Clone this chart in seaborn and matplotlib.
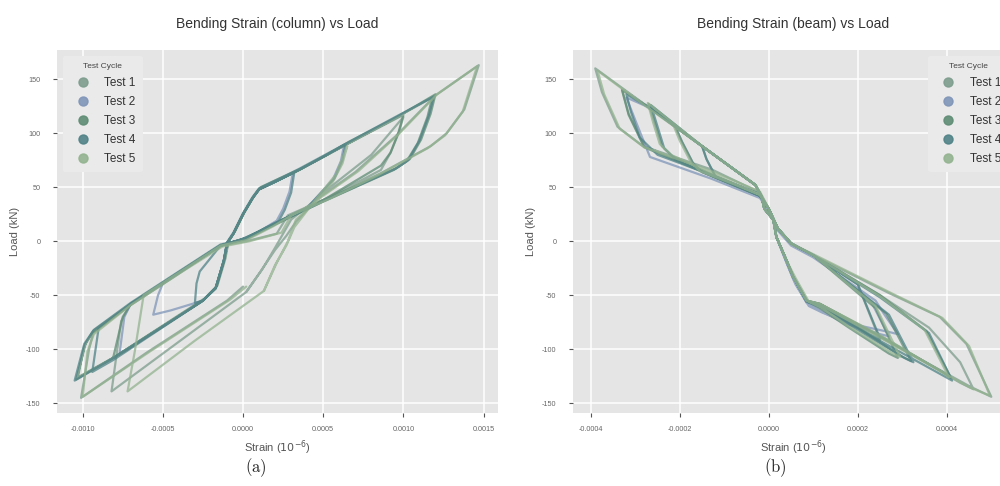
import numpy as np
import pandas as pd
import seaborn as sns
import matplotlib
matplotlib.use("Agg")
import matplotlib.pyplot as plt
from matplotlib.lines import Line2D
from matplotlib.ticker import FormatStrFormatter, MultipleLocator

# ---------------- data ----------------
tests = ["Test 1", "Test 2", "Test 3", "Test 4", "Test 5"]
colors = ["#7d9d8d", "#7f95b8", "#5e8c74", "#4f8286", "#93b38f"]

# Panel (a): column bending strain vs load, (strain, load kN) vertices
col_test1 = [
    (0.00002, -47), (0.00010, -30), (0.00020, -8), (0.00027, 5), (0.00033, 18), (0.00050, 45), (0.00080, 80), (0.00100, 115),
    (0.00097, 100), (0.00092, 82), (0.00086, 66), (0.00050, 38), (0.00019, 15), (0.00002, 2), (-0.00014, -4),
    (-0.00040, -29), (-0.00070, -58), (-0.00076, -74), (-0.00082, -139),
    (-0.00040, -93), (0.00002, -47),
    (0.00012, -26), (0.00020, -6), (0.00030, 20), (0.00045, 38), (0.00070, 64), (0.00095, 97), (0.00120, 135), (0.00147, 163),
    (0.00138, 122), (0.00127, 100), (0.00117, 88), (0.00086, 63), (0.00056, 42), (0.00028, 24), (0.00021, 7), (0.00002, 0),
    (-0.00014, -4), (-0.00040, -29), (-0.00070, -58), (-0.000935, -85), (-0.00096, -100), (-0.00101, -145),
    (-0.00060, -103), (-0.00010, -55), (0.00000, -42)]

col_test2 = [
    (-0.00010, -2), (-0.00006, 7), (0.00000, 25), (0.00006, 40), (0.00010, 48), (0.00020, 55), (0.00031, 63),
    (0.00029, 46), (0.00025, 30), (0.00021, 19), (0.00010, 9), (-0.00002, 1), (-0.00014, -4), (-0.00040, -29),
    (-0.00050, -39), (-0.00053, -50), (-0.00056, -68),
    (-0.00045, -64), (-0.00025, -55), (-0.00017, -43), (-0.00012, -18),
    (-0.00010, -2), (-0.00006, 7), (0.00000, 25), (0.00006, 40), (0.00010, 48), (0.00020, 55), (0.00035, 66), (0.00050, 78), (0.00063, 89),
    (0.00061, 74), (0.00056, 57), (0.00051, 49), (0.00040, 31), (0.00019, 16), (0.00002, 3), (-0.00014, -4),
    (-0.00040, -29), (-0.00070, -58), (-0.00074, -70), (-0.00077, -104),
    (-0.00072, -100), (-0.00025, -55), (-0.00017, -43), (-0.00012, -18), (-0.00010, -2)]

col_test3 = [
    (-0.00010, -2), (-0.00006, 7), (0.00000, 25), (0.00006, 40), (0.00010, 48), (0.00020, 55), (0.00035, 66), (0.00050, 78), (0.00065, 90), (0.00100, 117),
    (0.00097, 101), (0.00092, 82), (0.00086, 70), (0.00050, 38), (0.00019, 16), (0.00002, 3), (-0.00014, -4),
    (-0.00040, -29), (-0.00070, -58), (-0.00075, -70), (-0.00081, -108),
    (-0.00075, -103), (-0.00025, -55), (-0.00017, -43), (-0.00012, -18),
    (-0.00010, -2), (-0.00006, 7), (0.00000, 25), (0.00006, 40), (0.00010, 48), (0.00020, 55), (0.00035, 66), (0.00050, 78), (0.00065, 90), (0.00095, 114), (0.00120, 136),
    (0.00117, 118), (0.00111, 94), (0.00104, 76), (0.00096, 68), (0.00050, 38), (0.00019, 16), (0.00002, 3), (-0.00014, -4),
    (-0.00040, -29), (-0.00070, -58), (-0.000935, -83), (-0.00098, -94), (-0.00104, -128),
    (-0.00081, -108), (-0.00025, -55), (-0.00017, -43), (-0.00012, -18),
    (-0.00009, 0), (-0.00005, 9), (0.00001, 27), (0.00007, 42), (0.00011, 50), (0.00021, 57), (0.00036, 67), (0.00051, 79), (0.00066, 92), (0.00096, 115), (0.00118, 133),
    (0.00115, 115), (0.00109, 91), (0.00102, 74), (0.00094, 66), (0.00049, 36), (0.00018, 14), (0.00001, 2), (-0.00015, -5),
    (-0.00041, -31), (-0.00071, -60), (-0.00094, -85), (-0.00099, -97), (-0.00103, -126),
    (-0.00080, -107), (-0.00024, -53), (-0.00016, -41), (-0.00011, -16), (-0.00009, 0)]

col_test4 = [
    (-0.00010, -2), (-0.00006, 7), (0.00000, 25), (0.00006, 40), (0.00010, 48), (0.00020, 55), (0.00032, 64),
    (0.00030, 45), (0.00026, 29), (0.00022, 18), (0.00010, 9), (-0.00002, 1), (-0.00014, -4),
    (-0.00027, -28), (-0.00029, -39), (-0.00030, -57),
    (-0.00025, -55), (-0.00017, -43), (-0.00012, -18),
    (-0.00010, -2), (-0.00006, 7), (0.00000, 25), (0.00006, 40), (0.00010, 48), (0.00020, 55), (0.00035, 66), (0.00050, 78), (0.00064, 90),
    (0.00062, 75), (0.00057, 58), (0.00052, 50), (0.00040, 31), (0.00019, 16), (0.00002, 3), (-0.00014, -4),
    (-0.00040, -29), (-0.00070, -58), (-0.00090, -80), (-0.00094, -121),
    (-0.00081, -110), (-0.00025, -55), (-0.00017, -43), (-0.00012, -18),
    (-0.00010, -1), (-0.00006, 8), (0.00000, 26), (0.00006, 41), (0.00010, 49), (0.00020, 56), (0.00035, 67), (0.00050, 79), (0.00065, 91), (0.00095, 115), (0.00119, 134),
    (0.00116, 117), (0.00110, 93), (0.00103, 75), (0.00095, 67), (0.00050, 37), (0.00019, 15), (0.00002, 2), (-0.00014, -3),
    (-0.00040, -28), (-0.00070, -57), (-0.00093, -82), (-0.00099, -95), (-0.00105, -129),
    (-0.00082, -109), (-0.00026, -56), (-0.00017, -44), (-0.00012, -19), (-0.00010, -2)]

col_test5 = [
    (0.00013, -46), (0.00020, -22), (0.00027, -4), (0.00032, 13), (0.00045, 38), (0.00058, 62), (0.00065, 88),
    (0.00062, 72), (0.00056, 55), (0.00045, 36), (0.00028, 22), (0.00019, 14), (0.00002, 1), (-0.00014, -4),
    (-0.00040, -29), (-0.00062, -50), (-0.000675, -102), (-0.00072, -139),
    (-0.00030, -92), (0.00013, -46),
    (0.00021, -20), (0.00028, 0), (0.00033, 20), (0.00048, 40), (0.00072, 65), (0.00097, 99), (0.00121, 136), (0.00146, 162),
    (0.00137, 120), (0.00126, 98), (0.00115, 86), (0.00084, 61), (0.00055, 40), (0.00030, 24), (0.00024, 8), (0.00004, 0),
    (-0.00013, -5), (-0.00040, -30), (-0.00070, -59), (-0.00093, -86), (-0.00097, -102), (-0.00100, -144),
    (-0.00058, -102), (-0.00008, -54), (0.00002, -42)]

# Panel (b): beam bending strain vs load
beam_test1 = [
    (0.00001, 20), (-0.00001, 30), (-0.000016, 41), (-0.00003, 52), (-0.00010, 73), (-0.00015, 88),
    (-0.00014, 76), (-0.00012, 60), (-0.00006, 50), (-0.00002, 42), (0.00000, 30), (0.00002, 12), (0.00005, -2), (0.00010, -13),
    (0.00020, -40), (0.00025, -92), (0.00023, -88), (0.00015, -68), (0.000085, -55), (0.000055, -33), (0.00004, -18), (0.000017, 4),
    (0.00001, 20), (-0.00001, 30), (-0.000016, 41), (-0.00003, 52), (-0.00015, 88), (-0.00027, 124), (-0.00033, 141),
    (-0.000315, 118), (-0.00028, 88), (-0.00013, 62), (-0.00002, 42), (0.00000, 30), (0.00002, 12), (0.00005, -2), (0.00010, -13),
    (0.00025, -50), (0.00036, -80), (0.00043, -112), (0.00046, -137),
    (0.00043, -131), (0.00027, -92), (0.000115, -58), (0.000085, -55), (0.000055, -33), (0.00004, -18), (0.000017, 4),
    (0.00001, 20), (-0.00001, 30), (-0.000016, 41), (-0.00003, 52), (-0.00015, 88), (-0.00027, 124), (-0.00039, 160),
    (-0.000375, 138), (-0.00034, 106), (-0.000283, 88), (-0.000126, 66), (-0.00002, 45), (0.00000, 30), (0.00002, 12), (0.00005, -2), (0.00010, -13),
    (0.00027, -48), (0.000384, -70), (0.000444, -95), (0.00050, -144),
    (0.00045, -134), (0.00030, -100), (0.000115, -58), (0.000085, -55), (0.000055, -33), (0.00004, -18), (0.000017, 4)]

beam_test2 = [
    (0.00001, 20), (-0.00001, 30), (-0.000016, 41), (-0.00003, 52), (-0.00015, 88), (-0.00021, 106),
    (-0.000195, 92), (-0.00017, 72), (-0.00015, 64), (-0.00008, 52), (-0.00002, 42), (0.00000, 30), (0.00002, 12), (0.00005, -2), (0.00010, -13),
    (0.00023, -56), (0.00027, -88), (0.00025, -86), (0.00017, -76), (0.000115, -64), (0.000085, -57), (0.000055, -35), (0.00004, -20), (0.000017, 4),
    (0.00001, 20), (-0.00001, 30), (-0.000016, 41), (-0.00003, 52), (-0.00015, 88), (-0.00027, 124), (-0.00032, 133),
    (-0.00030, 112), (-0.000267, 78), (-0.00013, 58), (-0.00002, 40), (0.00000, 28), (0.00002, 10), (0.00005, -4), (0.00010, -15),
    (0.00024, -55), (0.00026, -68), (0.00029, -86),
    (0.00027, -84), (0.00018, -76), (0.00012, -66), (0.00009, -60), (0.00006, -40), (0.00004, -20), (0.000017, 4)]

beam_test3 = [
    (0.00001, 20), (-0.00001, 30), (-0.000016, 41), (-0.00003, 52), (-0.00015, 88), (-0.00021, 106),
    (-0.000195, 92), (-0.00017, 72), (-0.00015, 64), (-0.00008, 52), (-0.00002, 42), (0.00000, 30), (0.00002, 12), (0.00005, -2), (0.00010, -13),
    (0.00024, -62), (0.00029, -108), (0.00027, -104), (0.00018, -80), (0.000115, -62), (0.000085, -55), (0.000055, -33), (0.00004, -18), (0.000017, 4),
    (0.00001, 20), (-0.00001, 30), (-0.000016, 41), (-0.00003, 52), (-0.00015, 88), (-0.00027, 127),
    (-0.000255, 108), (-0.00024, 88), (-0.000215, 78), (-0.00012, 60), (-0.00002, 42), (0.00000, 30), (0.00002, 12), (0.00005, -2), (0.00010, -13),
    (0.000264, -67), (0.00032, -111),
    (0.00030, -107), (0.00020, -80), (0.000115, -60), (0.000085, -55), (0.000055, -33), (0.00004, -18), (0.000017, 4),
    (0.00001, 20), (-0.00001, 30), (-0.000016, 41), (-0.00003, 52), (-0.00015, 88), (-0.00027, 124), (-0.00033, 140),
    (-0.000315, 117), (-0.00028, 87), (-0.00013, 61), (-0.00002, 42), (0.00000, 30), (0.00002, 12), (0.00005, -2), (0.00010, -13),
    (0.00025, -50), (0.000354, -83), (0.00041, -127),
    (0.00039, -121), (0.00025, -88), (0.000115, -58), (0.000085, -55), (0.000055, -33), (0.00004, -18), (0.000017, 4)]

beam_test4 = [
    (0.00001, 20), (-0.00001, 30), (-0.000016, 41), (-0.00003, 52), (-0.00010, 73), (-0.00015, 88),
    (-0.00014, 76), (-0.00012, 60), (-0.00006, 50), (-0.00002, 42), (0.00000, 30), (0.00002, 12), (0.00005, -2), (0.00010, -13),
    (0.00020, -40), (0.00025, -90), (0.00023, -87), (0.00015, -67), (0.000085, -55), (0.000055, -33), (0.00004, -18), (0.000017, 4),
    (0.00001, 20), (-0.00001, 30), (-0.000016, 41), (-0.00003, 52), (-0.00015, 88), (-0.000265, 126),
    (-0.00025, 106), (-0.000235, 86), (-0.00021, 76), (-0.00012, 59), (-0.00002, 42), (0.00000, 30), (0.00002, 12), (0.00005, -2), (0.00010, -13),
    (0.00027, -68), (0.000325, -112),
    (0.000305, -108), (0.00020, -82), (0.00012, -62), (0.000085, -56), (0.000055, -33), (0.00004, -18), (0.000017, 4),
    (0.00001, 20), (-0.00001, 30), (-0.000016, 41), (-0.00003, 52), (-0.00015, 88), (-0.00027, 124), (-0.00032, 136),
    (-0.00031, 120), (-0.00029, 96), (-0.00025, 80), (-0.00012, 60), (-0.00002, 44), (0.00000, 30), (0.00002, 12), (0.00005, -2), (0.00010, -13),
    (0.00025, -52), (0.00036, -85), (0.000412, -129),
    (0.00039, -124), (0.00024, -90), (0.00012, -60), (0.000085, -56), (0.000055, -33), (0.00004, -18), (0.000017, 4)]

beam_test5 = [
    (0.00001, 20), (-0.00001, 30), (-0.000016, 41), (-0.00003, 52), (-0.00015, 88), (-0.000215, 108),
    (-0.00020, 93), (-0.000175, 73), (-0.000155, 65), (-0.00008, 53), (-0.00002, 43), (0.00000, 30), (0.00002, 12), (0.00005, -2), (0.00010, -13),
    (0.00024, -60), (0.000295, -107), (0.000275, -103), (0.00018, -79), (0.00012, -62), (0.00009, -56), (0.00006, -34), (0.00004, -18), (0.000017, 4),
    (0.00001, 20), (-0.00001, 30), (-0.000016, 41), (-0.00003, 52), (-0.00015, 88), (-0.000272, 128),
    (-0.00026, 110), (-0.000245, 90), (-0.00022, 80), (-0.00012, 61), (-0.00002, 43), (0.00000, 30), (0.00002, 12), (0.00005, -2), (0.00010, -13),
    (0.00025, -51), (0.00035, -82), (0.000405, -126),
    (0.000385, -120), (0.00025, -87), (0.000115, -58), (0.000085, -55), (0.000055, -33), (0.00004, -18), (0.000017, 4),
    (0.00001, 20), (-0.00001, 30), (-0.000016, 41), (-0.00003, 52), (-0.00015, 88), (-0.00027, 123), (-0.000385, 158),
    (-0.00037, 136), (-0.000335, 104), (-0.00028, 87), (-0.00013, 65), (-0.00002, 46), (0.00000, 30), (0.00002, 12), (0.00005, -2), (0.00010, -12),
    (0.00028, -49), (0.00039, -71), (0.00045, -97), (0.000497, -143),
    (0.00045, -135), (0.00031, -103), (0.00012, -60), (0.000085, -55), (0.000055, -33), (0.00004, -18), (0.000017, 4)]

col_data = [col_test1, col_test2, col_test3, col_test4, col_test5]
beam_data = [beam_test1, beam_test2, beam_test3, beam_test4, beam_test5]


def build(series):
    frames = []
    for name, pts in zip(tests, series):
        arr = np.array(pts, dtype=float)
        frames.append(pd.DataFrame({"strain": arr[:, 0], "load": arr[:, 1], "test": name}))
    return pd.concat(frames, ignore_index=True)


df_col = build(col_data)
df_beam = build(beam_data)

# ---------------- style ----------------
sns.set_theme(style="darkgrid")
plt.rcParams["font.family"] = ["Liberation Sans", "DejaVu Sans"]
plt.rcParams["axes.facecolor"] = "#E5E5E5"
plt.rcParams["grid.color"] = "white"
plt.rcParams["grid.linewidth"] = 1.1
plt.rcParams["axes.unicode_minus"] = False

fig = plt.figure(figsize=(10, 4.86), dpi=100)
ax1 = fig.add_axes([0.057, 0.1502, 0.441, 0.7469])
ax2 = fig.add_axes([0.573, 0.1502, 0.441, 0.7469])

palette = dict(zip(tests, colors))

for ax, df, title, xlim, xstep in [
    (ax1, df_col, "Bending Strain (column) vs Load", (-0.00116, 0.00159), 0.0005),
    (ax2, df_beam, "Bending Strain (beam) vs Load", (-0.00044, 0.000551), 0.0002),
]:
    sns.lineplot(data=df, x="strain", y="load", hue="test", palette=palette,
                 sort=False, estimator=None, lw=1.6, alpha=0.75, legend=False, ax=ax)
    ax.set_xlim(*xlim)
    ax.set_ylim(-159, 177)
    ax.xaxis.set_major_locator(MultipleLocator(xstep))
    ax.xaxis.set_major_formatter(FormatStrFormatter("%.4f"))
    ax.yaxis.set_major_locator(MultipleLocator(50))
    ax.set_title(title, fontsize=10, color="#333333", pad=16)
    ax.set_xlabel(r"Strain ($10^{-6}$)", fontsize=8, color="#555555", labelpad=4)
    ax.set_ylabel("Load (kN)", fontsize=8, color="#555555", labelpad=4)
    ax.tick_params(axis="both", which="major", length=3, width=0.8, color="#555555",
                   direction="out", bottom=True, left=True, labelsize=5.2, labelcolor="#666666")
    ax.tick_params(axis="x", pad=6)
    ax.tick_params(axis="y", pad=9)
    for sp in ax.spines.values():
        sp.set_visible(False)

handles = [Line2D([0], [0], marker="o", linestyle="none", markersize=6.5,
                  markerfacecolor=c, markeredgecolor=c, alpha=0.9) for c in colors]
for ax, loc in [(ax1, "upper left"), (ax2, "upper right")]:
    leg = ax.legend(handles, tests, title="Test Cycle", loc=loc, fontsize=8.5,
                    title_fontsize=6, frameon=True, facecolor="#EAEAEA", edgecolor="none",
                    framealpha=1.0, handlelength=2.2, handletextpad=0.7, labelspacing=0.6,
                    borderaxespad=0.5, borderpad=0.6)
    leg.get_title().set_color("#444444")
    for t in leg.get_texts():
        t.set_color("#333333")

fig.text(0.256, 0.037, r"$\mathrm{(a)}$", ha="center", va="center", fontsize=12,
         math_fontfamily="cm", color="#222222")
fig.text(0.775, 0.037, r"$\mathrm{(b)}$", ha="center", va="center", fontsize=12,
         math_fontfamily="cm", color="#222222")

fig.savefig("out.png", dpi=100)
